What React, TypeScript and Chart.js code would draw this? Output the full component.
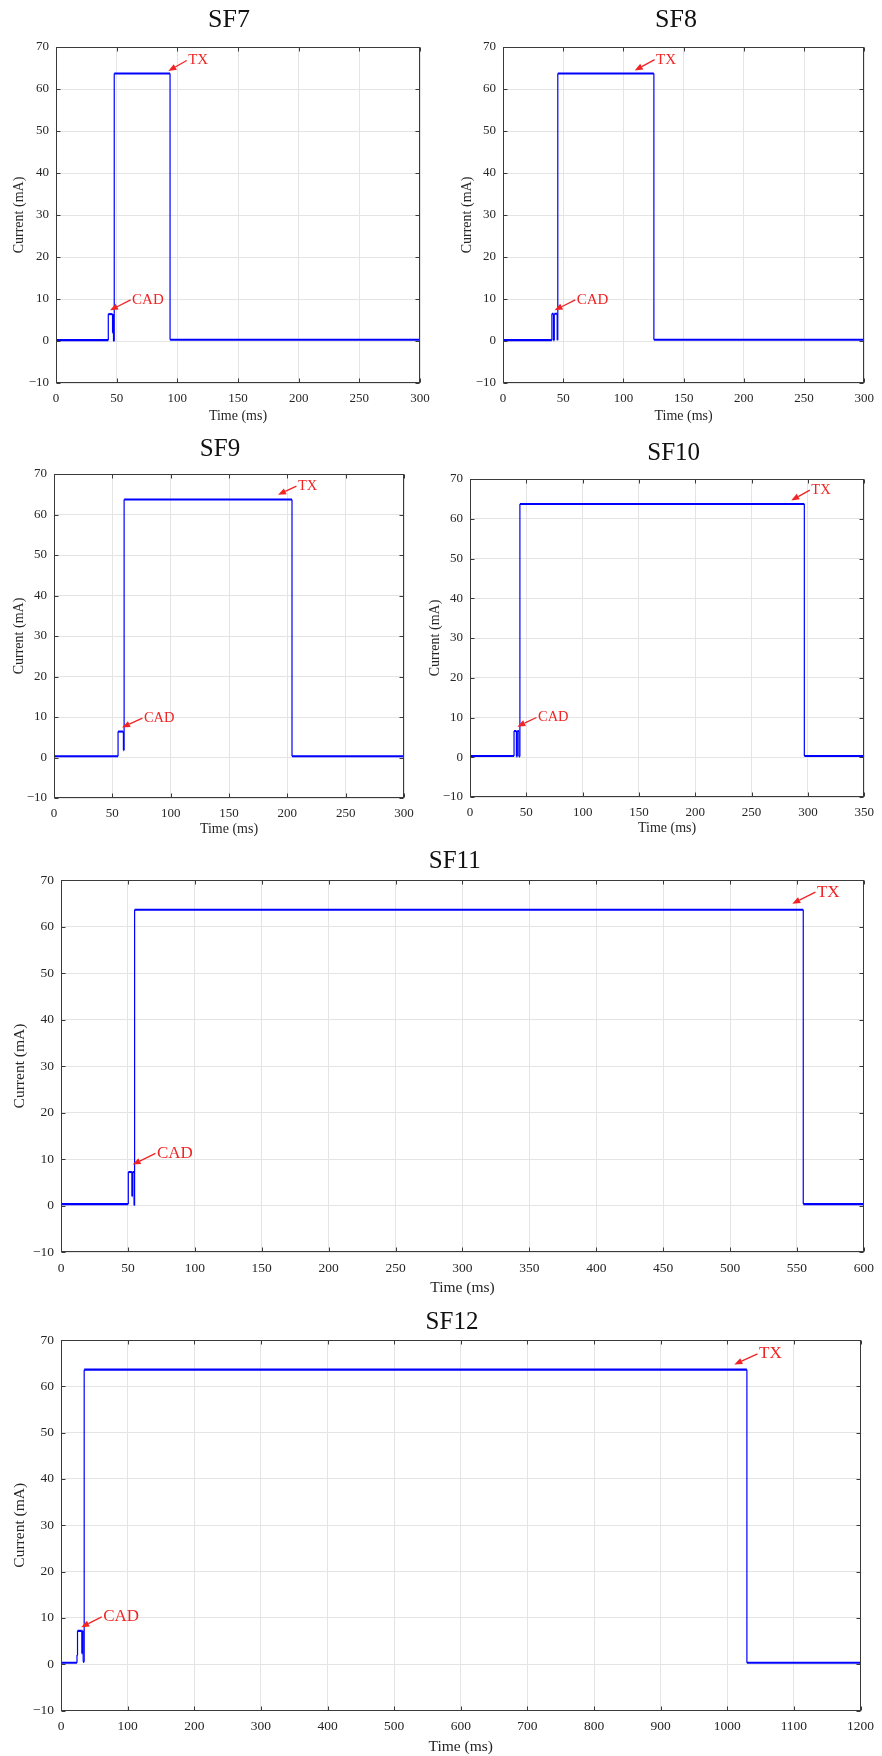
import React, { useEffect, useRef } from 'react';
import { Chart, registerables } from 'chart.js';

Chart.register(...registerables);

const FONT = '"Liberation Serif", "Times New Roman", Times, serif';

// ---------- data ----------
const TITLES = ['SF7', 'SF8', 'SF9', 'SF10', 'SF11', 'SF12'];
const X_MAX = [300, 300, 300, 350, 600, 1200];
const X_STEP = [50, 50, 50, 50, 50, 100];
const Y_MIN = -10;
const Y_MAX = 70;
const Y_STEP = 10;
const X_LABEL = 'Time (ms)';
const Y_LABEL = 'Current (mA)';

const SF7_T = [0, 43.1, 43.1, 46.6, 46.6, 47.0, 47.0, 47.4, 47.4, 48.0, 48.0, 94.0, 94.0, 300];
const SF7_I = [0.2, 0.2, 6.4, 6.4, 2.0, 2.0, 6.4, 6.4, 0.0, 0.0, 63.7, 63.7, 0.3, 0.3];

const SF8_T = [0, 40.6, 40.6, 41.9, 41.9, 42.6, 42.6, 45.0, 45.0, 45.5, 45.5, 125.3, 125.3, 300];
const SF8_I = [0.2, 0.2, 6.5, 6.5, 0.2, 0.2, 6.5, 6.5, 0.2, 0.2, 63.7, 63.7, 0.3, 0.3];

const SF9_T = [0, 54.9, 54.9, 59.5, 59.5, 60.1, 60.1, 204.0, 204.0, 300];
const SF9_I = [0.3, 0.3, 6.4, 6.4, 1.8, 1.8, 63.7, 63.7, 0.3, 0.3];

const SF10_T = [0, 39.1, 39.1, 41.2, 41.2, 42.0, 42.0, 43.4, 43.4, 44.3, 44.3, 296.8, 296.8, 350];
const SF10_I = [0.3, 0.3, 6.6, 6.6, 0.2, 0.2, 6.6, 6.6, 0.2, 0.2, 63.7, 63.7, 0.3, 0.3];

const SF11_T = [0, 50.3, 50.3, 53.0, 53.0, 53.4, 53.4, 54.6, 54.6, 55.0, 55.0, 554.7, 554.7, 600];
const SF11_I = [0.3, 0.3, 7.2, 7.2, 2.0, 2.0, 7.2, 7.2, 0.0, 0.0, 63.6, 63.6, 0.3, 0.3];

const SF12_T = [0, 24.0, 24.0, 24.8, 24.8, 31.3, 31.3, 32.3, 32.3, 33.3, 33.3, 34.8, 34.8, 1029.5, 1029.5, 1200];
const SF12_I = [0.3, 0.3, 2.0, 2.0, 7.2, 7.2, 2.3, 2.3, 7.2, 7.2, 0.5, 0.5, 63.6, 63.6, 0.3, 0.3];

const SERIES_T = [SF7_T, SF8_T, SF9_T, SF10_T, SF11_T, SF12_T];
const SERIES_I = [SF7_I, SF8_I, SF9_I, SF10_I, SF11_I, SF12_I];

// annotations (data coordinates): arrow tip and arrow tail (label anchor)
const TX_TEXT = 'TX';
const CAD_TEXT = 'CAD';
const TX_TIP_T = [92.6, 109.4, 192.0, 285.2, 546.5, 1010.6];
const TX_TIP_I = [64.3, 64.4, 64.9, 64.6, 64.9, 64.7];
const TX_TAIL_T = [107.7, 125.9, 207.8, 301.7, 563.8, 1045.5];
const TX_TAIL_I = [66.8, 67.0, 67.0, 67.2, 67.4, 67.0];
const CAD_TIP_T = [44.5, 42.8, 58.3, 42.0, 53.5, 30.3];
const CAD_TIP_I = [7.3, 7.3, 7.4, 7.7, 8.8, 8.0];
const CAD_TAIL_T = [61.5, 60.0, 75.8, 59.0, 70.6, 61.1];
const CAD_TAIL_I = [9.8, 9.8, 9.7, 10.0, 11.2, 10.2];

// ---------- layout (page pixels) ----------
type Panel = {
  box: [number, number, number, number]; // left, top, width, height
  plot: [number, number, number, number]; // left, top, right, bottom
  title: [number, number];
  xLabelY: number;
  yLabelX: number;
  titleSize: number;
  tickSize: number;
  labelSize: number;
  annSize: number;
};

const LAYOUT: Panel[] = [
  { box: [0, 0, 441, 430], plot: [56, 47, 420, 383], title: [229, 20.5], xLabelY: 416.7, yLabelX: 19.2, titleSize: 26, tickSize: 13, labelSize: 14, annSize: 15 },
  { box: [441, 0, 441, 430], plot: [503, 47, 868, 383], title: [676, 20.5], xLabelY: 416.7, yLabelX: 467.2, titleSize: 26, tickSize: 13, labelSize: 14, annSize: 15 },
  { box: [0, 430, 441, 420], plot: [54, 474, 404, 798], title: [220, 449.2], xLabelY: 829.3, yLabelX: 19.2, titleSize: 25, tickSize: 13, labelSize: 14, annSize: 14.5 },
  { box: [425, 430, 457, 420], plot: [470, 479, 873, 797], title: [673.7, 453.3], xLabelY: 828.3, yLabelX: 435, titleSize: 25, tickSize: 13, labelSize: 14, annSize: 14.5 },
  { box: [0, 850, 882, 450], plot: [61, 880, 868, 1252], title: [454.7, 861.7], xLabelY: 1288, yLabelX: 20, titleSize: 25, tickSize: 13.5, labelSize: 15.5, annSize: 17 },
  { box: [0, 1300, 882, 456], plot: [61, 1340, 865, 1710.5], title: [452, 1322], xLabelY: 1746.7, yLabelX: 19.7, titleSize: 25, tickSize: 13.5, labelSize: 15.5, annSize: 17 },
];

const LINE_BLUE = '#0000ff';
const RED = '#f02424';
const AXIS = '#3a3a3a';
const GRID = '#e4e4e4';
const TEXT = '#262626';

function fmtTick(v: number | string) {
  const n = Number(v);
  return n < 0 ? '\u2212' + Math.abs(n) : String(n);
}

function drawArrow(ctx: CanvasRenderingContext2D, x0: number, y0: number, x1: number, y1: number, color: string) {
  const ang = Math.atan2(y1 - y0, x1 - x0);
  const head = 8;
  const hw = 3.2;
  const c = Math.cos(ang);
  const s = Math.sin(ang);
  const bx = x1 - head * c;
  const by = y1 - head * s;
  ctx.save();
  ctx.strokeStyle = color;
  ctx.fillStyle = color;
  ctx.lineWidth = 1.3;
  ctx.beginPath();
  ctx.moveTo(x0, y0);
  ctx.lineTo(bx, by);
  ctx.stroke();
  ctx.beginPath();
  ctx.moveTo(x1, y1);
  ctx.lineTo(bx + hw * s, by - hw * c);
  ctx.lineTo(bx - hw * s, by + hw * c);
  ctx.closePath();
  ctx.fill();
  ctx.restore();
}

function Subplot({ idx }: { idx: number }) {
  const ref = useRef<HTMLCanvasElement | null>(null);
  const P = LAYOUT[idx];
  const [bl, bt, bw, bh] = P.box;
  const [pl, pt, pr, pb] = P.plot;

  useEffect(() => {
    if (!ref.current) return;
    const pts = SERIES_T[idx].map((t, k) => ({ x: t, y: SERIES_I[idx][k] }));
    const labelLH = P.labelSize * 1.2;

    const deco = {
      id: 'deco' + idx,
      afterDatasetsDraw(chart: any) {
        const ctx: CanvasRenderingContext2D = chart.ctx;
        const a = chart.chartArea;
        const xs = chart.scales.x;
        const ys = chart.scales.y;
        ctx.save();
        // box
        ctx.strokeStyle = AXIS;
        ctx.lineWidth = 1;
        const L = Math.round(a.left) + 0.5;
        const R = Math.round(a.right) - 0.5;
        const T = Math.round(a.top) + 0.5;
        const B = Math.round(a.bottom) - 0.5;
        ctx.strokeRect(L, T, R - L, B - T);
        // inward tick marks
        const tl = 4;
        ctx.beginPath();
        xs.ticks.forEach((tk: any) => {
          const x = Math.round(xs.getPixelForValue(tk.value)) + 0.5;
          ctx.moveTo(x, B);
          ctx.lineTo(x, B - tl);
          ctx.moveTo(x, T);
          ctx.lineTo(x, T + tl);
        });
        ys.ticks.forEach((tk: any) => {
          const y = Math.round(ys.getPixelForValue(tk.value)) + 0.5;
          ctx.moveTo(L, y);
          ctx.lineTo(L + tl, y);
          ctx.moveTo(R, y);
          ctx.lineTo(R - tl, y);
        });
        ctx.stroke();

        // annotations
        const ann = [
          [TX_TIP_T[idx], TX_TIP_I[idx], TX_TAIL_T[idx], TX_TAIL_I[idx], TX_TEXT],
          [CAD_TIP_T[idx], CAD_TIP_I[idx], CAD_TAIL_T[idx], CAD_TAIL_I[idx], CAD_TEXT],
        ] as [number, number, number, number, string][];
        ann.forEach(([tt, ti, lt, li, txt]) => {
          const x1 = xs.getPixelForValue(tt);
          const y1 = ys.getPixelForValue(ti);
          const x0 = xs.getPixelForValue(lt);
          const y0 = ys.getPixelForValue(li);
          drawArrow(ctx, x0, y0, x1, y1, RED);
          ctx.fillStyle = RED;
          ctx.font = `${P.annSize}px ${FONT}`;
          ctx.textAlign = 'left';
          ctx.textBaseline = 'middle';
          ctx.fillText(txt, x0 + 1.5, y0);
        });

        // subplot title
        ctx.fillStyle = '#111111';
        ctx.font = `${P.titleSize}px ${FONT}`;
        ctx.textAlign = 'center';
        ctx.textBaseline = 'middle';
        ctx.fillText(TITLES[idx], P.title[0] - bl, P.title[1] - bt);
        ctx.restore();
      },
    };

    const chart = new Chart(ref.current, {
      type: 'line',
      data: {
        datasets: [
          {
            data: pts,
            borderColor: LINE_BLUE,
            borderWidth: 2,
            pointRadius: 0,
            tension: 0,
            fill: false,
            segment: {
              borderWidth: (c: any) => (c.p0.parsed.x === c.p1.parsed.x ? 1.2 : 2.1),
            },
          } as any,
        ],
      },
      options: {
        animation: false,
        responsive: false,
        maintainAspectRatio: false,
        events: [],
        layout: {
          padding: { left: 0, top: pt - bt, right: bl + bw - pr, bottom: 0 },
        },
        plugins: {
          legend: { display: false },
          tooltip: { enabled: false },
          title: { display: false },
        },
        scales: {
          x: {
            type: 'linear',
            min: 0,
            max: X_MAX[idx],
            afterFit: (s: any) => {
              s.height = bt + bh - pb;
            },
            ticks: {
              stepSize: X_STEP[idx],
              autoSkip: false,
              maxRotation: 0,
              padding: 8,
              color: TEXT,
              font: { family: FONT, size: P.tickSize },
              callback: (v: any) => fmtTick(v),
            },
            grid: { color: GRID, lineWidth: 1, drawTicks: false },
            border: { display: false },
            title: {
              display: true,
              text: X_LABEL,
              color: TEXT,
              font: { family: FONT, size: P.labelSize, lineHeight: 1.2 },
              padding: { top: 0, bottom: bt + bh - P.xLabelY - labelLH / 2 },
            },
          },
          y: {
            type: 'linear',
            min: Y_MIN,
            max: Y_MAX,
            afterFit: (s: any) => {
              s.width = pl - bl;
            },
            ticks: {
              stepSize: Y_STEP,
              autoSkip: false,
              padding: 7,
              color: TEXT,
              font: { family: FONT, size: P.tickSize },
              callback: (v: any) => fmtTick(v),
            },
            grid: { color: GRID, lineWidth: 1, drawTicks: false },
            border: { display: false },
            title: {
              display: true,
              text: Y_LABEL,
              color: TEXT,
              font: { family: FONT, size: P.labelSize, lineHeight: 1.2 },
              padding: { top: P.yLabelX - bl - labelLH / 2, bottom: 0 },
            },
          },
        },
      },
      plugins: [deco],
    } as any);
    return () => chart.destroy();
  }, [idx]);

  return (
    <canvas
      ref={ref}
      width={bw}
      height={bh}
      style={{ position: 'absolute', left: bl, top: bt, width: bw, height: bh }}
    />
  );
}

export default function App() {
  return (
    <div
      style={{
        position: 'absolute',
        left: 0,
        top: 0,
        width: 882,
        height: 1756,
        background: '#ffffff',
        overflow: 'hidden',
      }}
    >
      {TITLES.map((_, i) => (
        <Subplot key={i} idx={i} />
      ))}
    </div>
  );
}
